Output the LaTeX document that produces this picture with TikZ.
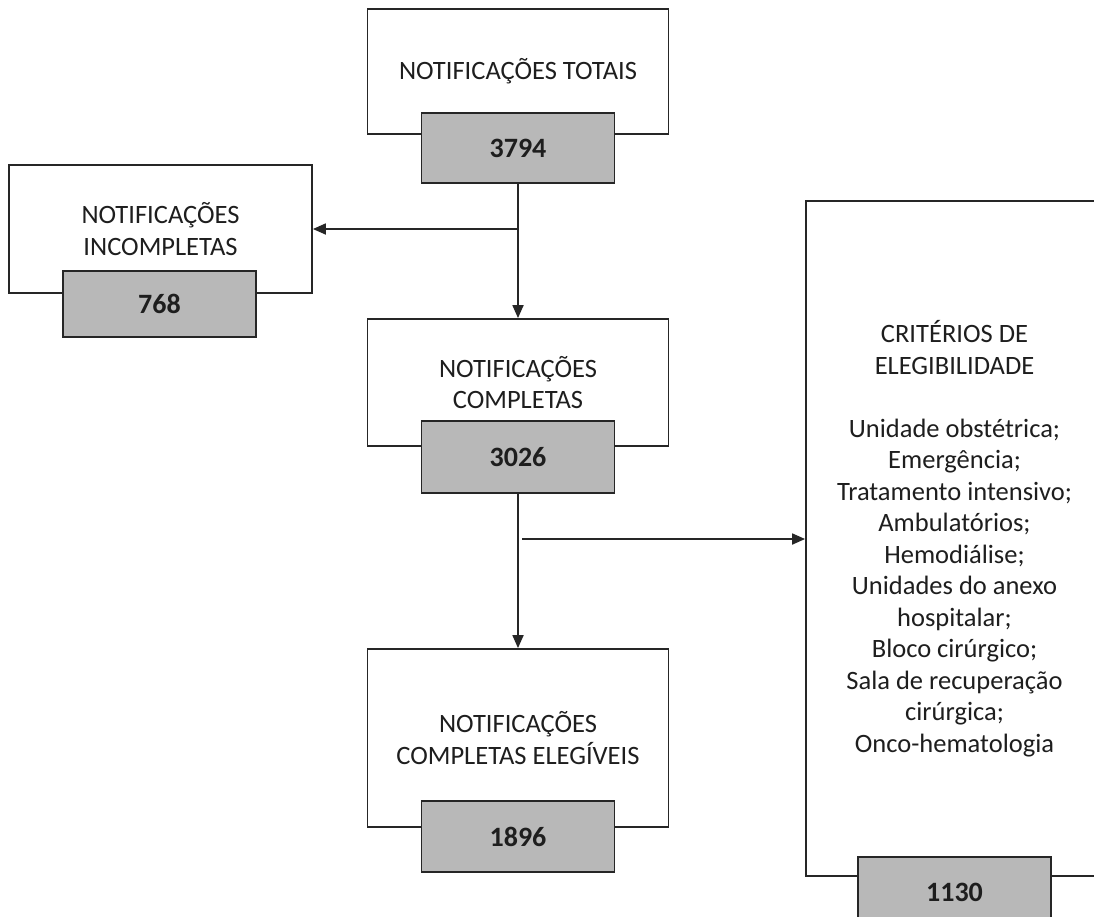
\documentclass[tikz,border=0pt]{standalone}
\usepackage{fontspec}
\setmainfont{Carlito}
\usetikzlibrary{arrows.meta}
\definecolor{linec}{RGB}{38,38,38}
\definecolor{grayfill}{RGB}{184,184,184}
\definecolor{txtc}{RGB}{30,30,30}
\begin{document}
\begin{tikzpicture}[x=1pt,y=-1pt,
  outerbox/.style={draw=linec, line width=1.8pt, fill=white, inner sep=0pt, align=center,
    text=txtc, font=\fontsize{26.5}{31.5}\selectfont},
  countbox/.style={draw=linec, line width=1.8pt, fill=grayfill, minimum width=193pt,
    inner sep=0pt, text=txtc, font=\fontsize{28}{31.5}\selectfont\bfseries},
  flow/.style={draw=linec, line width=1.8pt, -{Triangle[length=13pt,width=11pt]}}]
\clip (0,0) rectangle (1094,916);
\fill[white] (0,0) rectangle (1094,916);

% top box
\node[outerbox, minimum width=301pt, minimum height=125pt] (tot) at (518,71.5) {NOTIFICAÇÕES TOTAIS};
\node[countbox, minimum height=70pt] (ntot) at (518,148) {3794};

% left box
\node[outerbox, minimum width=303pt, minimum height=128pt] (inc) at (160.5,229) {NOTIFICAÇÕES\\INCOMPLETAS};
\node[countbox, minimum height=66pt] (ninc) at (159.5,304) {768};

% complete box
\node[outerbox, minimum width=301pt, minimum height=127pt] (comp) at (518,382.5) {NOTIFICAÇÕES\\COMPLETAS};
\node[countbox, minimum height=72pt] (ncomp) at (518,457) {3026};

% eligible box
\node[outerbox, minimum width=301pt, minimum height=178pt] (eleg) at (518,738) {NOTIFICAÇÕES\\COMPLETAS ELEGÍVEIS};
\node[countbox, minimum height=71pt] (neleg) at (518,836.5) {1896};

% criteria box
\node[outerbox, minimum width=297pt, minimum height=675pt] (crit) at (954.5,538.5)
  {CRITÉRIOS DE\\ELEGIBILIDADE\\~\\Unidade obstétrica;\\Emergência;\\Tratamento intensivo;\\Ambulatórios;\\Hemodiálise;\\Unidades do anexo\\hospitalar;\\Bloco cirúrgico;\\Sala de recuperação\\cirúrgica;\\Onco-hematologia};
\node[countbox, minimum height=70pt] (ncrit) at (954.5,892) {1130};

% connectors
\coordinate (b1) at (518,229);
\coordinate (b2) at (522,539);
\draw[flow] (ntot.south) -- (comp.north);
\draw[flow] (b1) -- (inc.east);
\draw[flow] (ncomp.south) -- (eleg.north);
\draw[flow] (b2) -- (crit.west |- b2);
\end{tikzpicture}
\end{document}
